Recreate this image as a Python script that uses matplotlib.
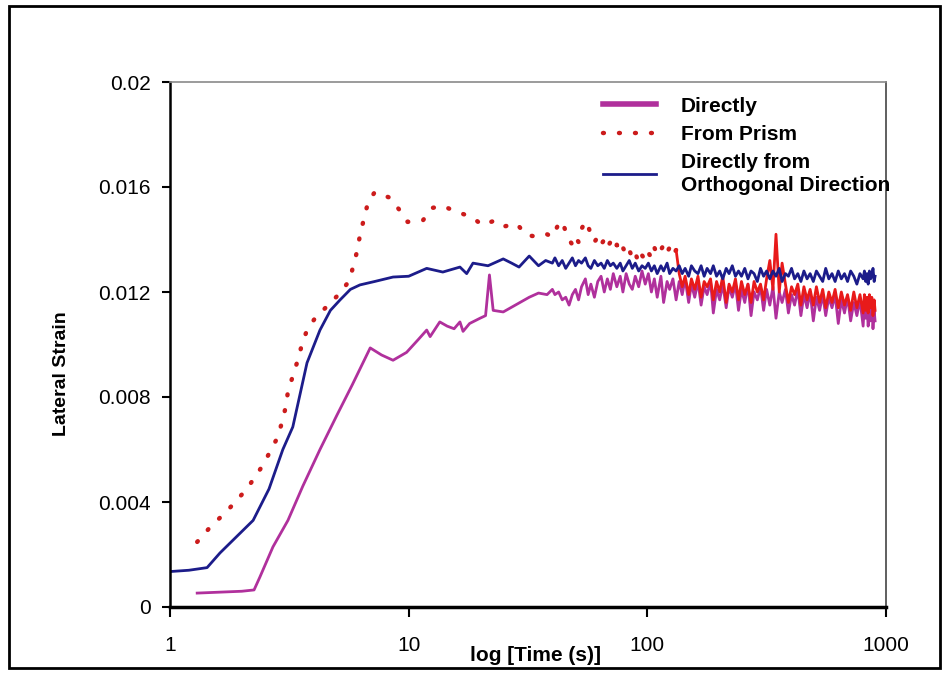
"""Lateral strain against log time, three measurement methods."""

from matplotlib import pyplot as plt
from matplotlib.patches import Rectangle
import numpy as np

plt.rcParams['font.family'] = ['Liberation Sans', 'DejaVu Sans']

# early, sparse part of each record (time in s, strain)
direct_t = [1.3, 1.65, 2.0, 2.25, 2.38, 2.7, 3.12, 3.6, 4.25, 5.0, 5.8, 6.9,
            7.7, 8.6, 9.8, 11.0, 11.9, 12.3, 13.5, 14.5, 15.5, 16.4, 16.9,
            18.0, 19.9, 21.0, 21.8, 22.6, 24.9, 28, 32, 35, 38]
direct_v = [0.00053, 0.00057, 0.0006, 0.00065, 0.00114, 0.00229, 0.0033,
            0.0046, 0.0060, 0.0073, 0.00846, 0.00987, 0.0096, 0.0094, 0.0097,
            0.0102, 0.01055, 0.0103, 0.01086, 0.0107, 0.0106, 0.01086, 0.0105,
            0.0108, 0.0110, 0.0111, 0.01265, 0.0113, 0.01124, 0.0115, 0.0118,
            0.01196, 0.0119]

prism_t = [1.3, 1.46, 1.75, 2.1, 2.45, 2.8, 2.94, 3.05, 3.12, 3.27, 3.43, 3.57,
           3.75, 4.05, 4.6, 5.16, 5.67, 5.84, 6.1, 6.25, 6.5, 6.75, 7.2, 8.3,
           9.2, 9.9, 11.5, 12.5, 13.9, 15.9, 18.4, 20.3, 22.6, 24.6, 28.4, 31,
           35, 38]
prism_v = [0.00248, 0.0030, 0.0037, 0.0045, 0.0054, 0.0064, 0.0070, 0.0076,
           0.0082, 0.0088, 0.0094, 0.0100, 0.01055, 0.0110, 0.0115, 0.01196,
           0.01246, 0.01295, 0.0136, 0.01417, 0.0148, 0.0154, 0.0158, 0.0156,
           0.0151, 0.01467, 0.01474, 0.0152, 0.01528, 0.01505, 0.01486,
           0.01455, 0.0147, 0.01448, 0.0146, 0.01417, 0.0141, 0.0142]

ortho_t = [1.0, 1.2, 1.43, 1.62, 1.96, 2.23, 2.6, 2.97, 3.27, 3.75, 4.25, 4.7,
           5.16, 5.7, 6.25, 7.2, 8.6, 10.0, 11.9, 13.9, 16.4, 17.5, 18.6, 21.5,
           24.9, 27, 29, 32, 35, 37.5]
ortho_v = [0.00135, 0.0014, 0.0015, 0.00206, 0.0028, 0.0033, 0.0045, 0.0060,
           0.00686, 0.0093, 0.01055, 0.0113, 0.0117, 0.0121, 0.01227, 0.0124,
           0.01257, 0.0126, 0.0129, 0.01276, 0.01295, 0.0127, 0.0131, 0.0130,
           0.01326, 0.0131, 0.01295, 0.01337, 0.0130, 0.0132]

# late, dense and noisy part (shared time stamps)
late_t = [40, 41, 42.5, 44, 45.5, 47, 48.5, 50, 51.5, 53,
          55, 56.5, 58, 60, 62, 64, 66, 68, 70, 72,
          74.5, 77, 79, 81.5, 84, 86.5, 89, 92, 95, 98,
          101, 104, 107, 110, 114, 117, 121, 124, 128, 132,
          136, 140, 144, 149, 153, 158, 163, 168, 173, 178,
          184, 189, 195, 201, 207, 214, 220, 227, 234, 241,
          248, 256, 264, 272, 280, 289, 298, 307, 316, 326,
          336, 346, 357, 367, 379, 390, 402, 414, 427, 440,
          453, 467, 481, 496, 511, 527, 543, 559, 576, 594,
          612, 631, 650, 670, 690, 711, 733, 755, 778, 802,
          812, 822, 832, 842, 852, 862, 872, 882, 892, 900]

direct_late = [0.0121, 0.0119, 0.0120, 0.0117, 0.0118, 0.0115, 0.0119, 0.0121, 0.0117, 0.0122,
               0.0125, 0.0119, 0.0123, 0.0118, 0.0124, 0.0126, 0.0120, 0.0125, 0.0121, 0.0127,
               0.0122, 0.0126, 0.0120, 0.0127, 0.0123, 0.0121, 0.0126, 0.0122, 0.0128, 0.0123,
               0.0127, 0.0120, 0.0125, 0.0118, 0.0126, 0.0116, 0.0124, 0.0121, 0.0125, 0.0117,
               0.0124, 0.0119, 0.0125, 0.0116, 0.0123, 0.0118, 0.0124, 0.0115, 0.0122, 0.0119,
               0.0124, 0.0112, 0.0121, 0.0117, 0.0123, 0.0114, 0.0122, 0.0118, 0.0123, 0.0113,
               0.0121, 0.0116, 0.0123, 0.0111, 0.0120, 0.0117, 0.0122, 0.0113, 0.0121, 0.0115,
               0.0122, 0.0110, 0.0120, 0.0116, 0.0121, 0.0112, 0.0119, 0.0115, 0.0121, 0.0111,
               0.0119, 0.0114, 0.0120, 0.0109, 0.0118, 0.0113, 0.0119, 0.0111, 0.0118, 0.0114,
               0.0119, 0.0108, 0.0117, 0.0112, 0.0118, 0.0109, 0.0116, 0.0111, 0.0117, 0.0107,
               0.0116, 0.0110, 0.0115, 0.0107, 0.0114, 0.0109, 0.0116, 0.0106, 0.0113, 0.0109]

prism_late = [0.0141, 0.0143, 0.0146, 0.0147, 0.0143, 0.0140, 0.0138, 0.0141, 0.0139, 0.0144,
              0.0147, 0.0145, 0.0142, 0.0139, 0.0141, 0.0138, 0.0140, 0.0137, 0.0139, 0.0136,
              0.0138, 0.0135, 0.0137, 0.0134, 0.0136, 0.0133, 0.0135, 0.0131, 0.0134, 0.0132,
              0.0135, 0.0133, 0.0137, 0.0134, 0.0136, 0.0138, 0.0135, 0.0137, 0.0134, 0.0136,
              0.0127, 0.0122, 0.0126, 0.0119, 0.0125, 0.0121, 0.0126, 0.0118, 0.0124, 0.0122,
              0.0125, 0.0117, 0.0124, 0.0120, 0.0126, 0.0116, 0.0123, 0.0120, 0.0125, 0.0117,
              0.0124, 0.0119, 0.0123, 0.0116, 0.0124, 0.0120, 0.0123, 0.0117, 0.0125, 0.0132,
              0.0121, 0.0142, 0.0120, 0.0131, 0.0123, 0.0116, 0.0122, 0.0119, 0.0123, 0.0115,
              0.0122, 0.0117, 0.0121, 0.0115, 0.0122, 0.0116, 0.0121, 0.0114, 0.0120, 0.0116,
              0.0121, 0.0114, 0.0120, 0.0115, 0.0119, 0.0113, 0.0120, 0.0114, 0.0119, 0.0112,
              0.0119, 0.0113, 0.0118, 0.0112, 0.0119, 0.0114, 0.0118, 0.0111, 0.0117, 0.0113]

ortho_late = [0.0131, 0.0133, 0.0130, 0.0132, 0.0129, 0.0131, 0.0133, 0.0130, 0.0132, 0.0131,
              0.0133, 0.0130, 0.0129, 0.0132, 0.0130, 0.0131, 0.0129, 0.0132, 0.0130, 0.0131,
              0.0129, 0.0131, 0.0128, 0.0130, 0.0132, 0.0129, 0.0131, 0.0128, 0.0130, 0.0129,
              0.0131, 0.0128, 0.0130, 0.0127, 0.0130, 0.0128, 0.0131, 0.0127, 0.0129, 0.0128,
              0.0130, 0.0127, 0.0129, 0.0126, 0.0130, 0.0128, 0.0127, 0.0130, 0.0126, 0.0129,
              0.0127, 0.0130, 0.0126, 0.0128, 0.0125, 0.0129, 0.0127, 0.0130, 0.0126, 0.0128,
              0.0126, 0.0129, 0.0125, 0.0128, 0.0127, 0.0124, 0.0129, 0.0126, 0.0128, 0.0125,
              0.0128, 0.0126, 0.0129, 0.0124, 0.0127, 0.0126, 0.0129, 0.0125, 0.0127, 0.0124,
              0.0128, 0.0125, 0.0127, 0.0124, 0.0128, 0.0126, 0.0124, 0.0129, 0.0125, 0.0127,
              0.0124, 0.0128, 0.0125, 0.0127, 0.0124, 0.0128, 0.0126, 0.0123, 0.0127, 0.0125,
              0.0128, 0.0124, 0.0127, 0.0123, 0.0128, 0.0125, 0.0126, 0.0129, 0.0124, 0.0126]

labels = ['Directly', 'From Prism', 'Directly from\nOrthogonal Direction']
x_ticks = [1, 10, 100, 1000]
y_ticks = [0, 0.004, 0.008, 0.012, 0.016, 0.02]
y_tick_labels = ['0', '0.004', '0.008', '0.012', '0.016', '0.02']

# where the prism record gets so dense that its dots merge into a band
dense_from = 132


fig = plt.figure(figsize=(9.43, 6.73), dpi=100)
ax = fig.add_axes([170 / 943, 66 / 673, 716 / 943, 525 / 673])

ax.plot(direct_t + late_t, direct_v + direct_late, color='#b0309c',
        linewidth=2.0, label=labels[0])

prism_all_t = np.array(prism_t + late_t)
prism_all_v = np.array(prism_v + prism_late)
sparse = prism_all_t <= dense_from
dense = prism_all_t >= dense_from
ax.plot(prism_all_t[sparse], prism_all_v[sparse], color='#cc1c1c',
        linewidth=3.2, linestyle=(0, (0.2, 3.4)), dash_capstyle='round',
        label=labels[1])
ax.plot(prism_all_t[dense], prism_all_v[dense], color='#e81a1a',
        linewidth=2.0)

ax.plot(ortho_t + late_t, ortho_v + ortho_late, color='#1c1c8a',
        linewidth=2.0, label=labels[2])

ax.set_xscale('log')
ax.set_xlim(1, 1000)
ax.set_ylim(0, 0.02)
ax.set_xticks(x_ticks)
ax.set_xticklabels([str(t) for t in x_ticks])
ax.xaxis.set_minor_locator(plt.NullLocator())
ax.set_yticks(y_ticks)
ax.set_yticklabels(y_tick_labels)

ax.tick_params(axis='both', labelsize=15, direction='out', width=1.5)
ax.tick_params(axis='x', length=7, pad=14)
ax.tick_params(axis='y', length=6, pad=8)

ax.spines['left'].set_linewidth(1.8)
ax.spines['bottom'].set_linewidth(2.5)
ax.spines['top'].set_color('#8a8a8a')
ax.spines['top'].set_linewidth(1.2)
ax.spines['right'].set_color('#444444')
ax.spines['right'].set_linewidth(1.2)

ax.set_xlabel('log [Time (s)]', fontsize=15, fontweight='bold')
ax.set_ylabel('Lateral Strain', fontsize=14, fontweight='bold')
ax.xaxis.set_label_coords(0.51, -0.074)
ax.yaxis.set_label_coords(-0.14, 0.444)

leg = ax.legend(loc='upper left', bbox_to_anchor=(0.585, 1.0), frameon=False,
                prop={'size': 15, 'weight': 'bold'}, handlelength=2.5,
                handletextpad=1.2, labelspacing=0.45, borderaxespad=0.3)
leg.get_lines()[0].set_linewidth(4)
for text in leg.get_texts():
    text.set_linespacing(1.25)

# scanned page border
fig.patches.append(Rectangle((9 / 943, 5 / 673), 931 / 943, 662 / 673,
                             transform=fig.transFigure, fill=False,
                             edgecolor='black', linewidth=2))

fig.savefig('out.png', dpi=100)
